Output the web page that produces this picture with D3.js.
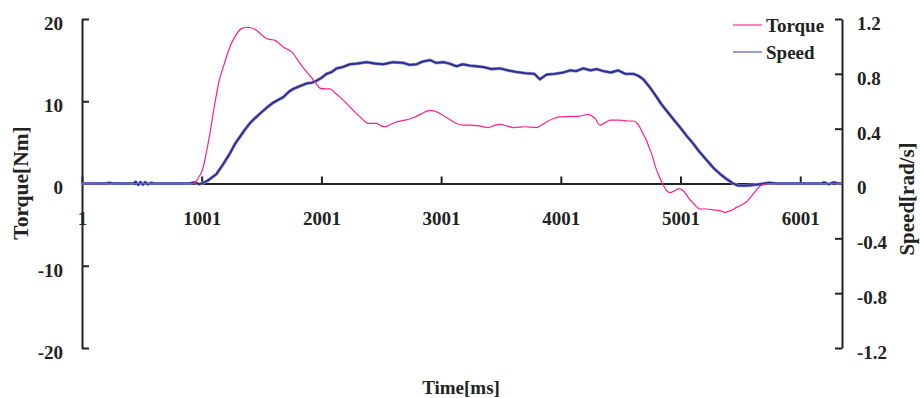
<!DOCTYPE html>
<html>
<head>
<meta charset="utf-8">
<script src="https://cdn.jsdelivr.net/npm/d3@7"></script>
<style>
  body { margin: 0; background: #fff; }
  svg text { font-family: "Liberation Serif", "Times New Roman", serif; font-weight: bold; fill: #222; }
</style>
</head>
<body>
<svg id="chart" width="921" height="398"></svg>
<script>
// time axis ticks (ms)
const timeTicks = [1, 1001, 2001, 3001, 4001, 5001, 6001];
const torqueTicks = [-20, -10, 0, 10, 20];
const speedTicks = [-1.2, -0.8, -0.4, 0, 0.4, 0.8, 1.2];

// Torque [Nm]
const torqueTime = [0, 930, 970, 1012, 1040, 1070, 1100, 1125, 1150, 1180, 1210, 1237, 1265, 1293, 1330, 1376, 1420, 1460, 1500, 1543, 1580, 1613, 1650, 1683, 1720, 1753, 1790, 1822, 1865, 1906, 1950, 1989, 2030, 2073, 2115, 2156, 2200, 2240, 2280, 2323, 2360, 2393, 2430, 2462, 2500, 2532, 2580, 2629, 2700, 2768, 2840, 2907, 2950, 2991, 3060, 3130, 3190, 3242, 3320, 3395, 3450, 3493, 3550, 3604, 3700, 3799, 3840, 3883, 3940, 3994, 4080, 4161, 4231, 4260, 4287, 4328, 4370, 4412, 4495, 4560, 4607, 4640, 4662, 4690, 4718, 4740, 4760, 4780, 4802, 4825, 4843, 4865, 4885, 4913, 4950, 4983, 5015, 5038, 5070, 5108, 5140, 5164, 5220, 5275, 5330, 5373, 5420, 5470, 5498, 5554, 5596, 5630, 5665, 5700, 5740, 6350];
const torqueValue = [0, 0, 0.6, 1.9, 3.8, 6.1, 8.8, 10.9, 12.7, 14.1, 15.5, 16.6, 17.5, 18.2, 18.8, 19.0, 18.9, 18.6, 18.1, 17.6, 17.5, 17.4, 17.0, 16.6, 16.3, 16.0, 15.3, 14.6, 13.8, 13.1, 12.3, 11.6, 11.5, 11.5, 11.0, 10.5, 9.9, 9.3, 8.7, 8.1, 7.6, 7.3, 7.3, 7.3, 7.0, 6.9, 7.2, 7.5, 7.7, 8.0, 8.5, 8.9, 8.8, 8.5, 7.9, 7.3, 7.1, 7.1, 7.0, 6.8, 7.1, 7.2, 7.0, 6.8, 6.9, 6.8, 7.1, 7.5, 7.9, 8.1, 8.15, 8.2, 8.4, 8.2, 7.9, 7.1, 7.4, 7.7, 7.7, 7.6, 7.6, 7.3, 6.8, 6.0, 5.2, 4.3, 3.6, 2.6, 1.6, 0.8, 0.2, -0.4, -0.85, -1.1, -0.9, -0.65, -0.8, -1.1, -1.8, -2.4, -2.9, -3.1, -3.1, -3.2, -3.3, -3.5, -3.3, -2.9, -2.7, -2.2, -1.5, -0.9, -0.3, -0.1, 0, 0];

// Speed [rad/s]
const speedTime = [0, 200, 230, 260, 430, 450, 470, 490, 510, 530, 550, 580, 600, 900, 940, 980, 1001, 1050, 1125, 1180, 1237, 1280, 1320, 1360, 1404, 1450, 1488, 1540, 1599, 1640, 1683, 1730, 1766, 1820, 1878, 1920, 1962, 2000, 2045, 2090, 2129, 2180, 2240, 2300, 2379, 2450, 2518, 2600, 2685, 2740, 2797, 2850, 2908, 2960, 3019, 3070, 3130, 3180, 3242, 3300, 3353, 3420, 3493, 3560, 3620, 3700, 3780, 3827, 3883, 3950, 4022, 4080, 4130, 4189, 4250, 4300, 4356, 4420, 4480, 4540, 4607, 4650, 4690, 4746, 4802, 4840, 4885, 4940, 4997, 5050, 5108, 5160, 5220, 5280, 5331, 5390, 5442, 5480, 5550, 5620, 5700, 5740, 5800, 6180, 6200, 6240, 6280, 6320, 6350];
const speedValue = [0, 0, 0.005, 0, 0, 0.012, -0.01, 0.01, -0.008, 0.01, -0.005, 0.005, 0, 0, 0.008, -0.005, 0, 0.02, 0.07, 0.14, 0.22, 0.29, 0.34, 0.39, 0.44, 0.48, 0.51, 0.55, 0.59, 0.61, 0.63, 0.67, 0.69, 0.71, 0.73, 0.735, 0.75, 0.77, 0.80, 0.815, 0.84, 0.85, 0.87, 0.875, 0.885, 0.875, 0.87, 0.885, 0.88, 0.865, 0.87, 0.89, 0.90, 0.88, 0.885, 0.875, 0.855, 0.87, 0.86, 0.855, 0.85, 0.835, 0.84, 0.825, 0.815, 0.805, 0.80, 0.76, 0.795, 0.80, 0.81, 0.825, 0.82, 0.84, 0.825, 0.835, 0.82, 0.81, 0.825, 0.80, 0.80, 0.785, 0.76, 0.70, 0.63, 0.58, 0.53, 0.47, 0.41, 0.35, 0.29, 0.23, 0.17, 0.11, 0.07, 0.03, 0, -0.015, -0.015, -0.01, 0, 0.005, 0, 0, 0.008, -0.005, 0.008, 0, 0];

const torqueColor = "#ff1f8f";
const speedColor = "#2b2e8f";

const svg = d3.select("#chart");
const plot = { left: 82, right: 842, top: 19, bottom: 348 };

const x = d3.scaleLinear().domain([1, 6350]).range([plot.left, plot.right]);
const yT = d3.scaleLinear().domain([-20, 20]).range([plot.bottom, plot.top]);
const yS = d3.scaleLinear().domain([-1.2, 1.2]).range([plot.bottom, plot.top]);

function styleAxis(g) {
  g.selectAll("path, line").attr("stroke", "#222").attr("stroke-width", 2);
  g.selectAll("text").attr("font-size", "19px").attr("fill", "#222")
    .attr("font-family", '"Liberation Serif", "Times New Roman", serif')
    .attr("font-weight", "bold");
}

// left axis (torque) - plain hyphen minus like the original
svg.append("g")
  .attr("transform", `translate(${plot.left},0)`)
  .call(d3.axisLeft(yT).tickValues(torqueTicks).tickFormat(d => String(d))
    .tickSizeInner(-7).tickSizeOuter(0).tickPadding(19))
  .call(styleAxis)
  .selectAll("text").attr("dy", "0.55em");

// right axis (speed)
svg.append("g")
  .attr("transform", `translate(${plot.right},0)`)
  .call(d3.axisRight(yS).tickValues(speedTicks).tickFormat(d => d === 0 ? "0" : d.toFixed(1))
    .tickSizeInner(-7).tickSizeOuter(0).tickPadding(15))
  .call(styleAxis)
  .selectAll("text").attr("dy", "0.55em");

// time axis across zero
svg.append("g")
  .attr("transform", `translate(0,${yT(0)})`)
  .call(d3.axisBottom(x).tickValues(timeTicks).tickFormat(d => String(d))
    .tickSizeInner(-7).tickSizeOuter(0).tickPadding(28))
  .call(styleAxis);

// series
const speedData = speedTime.map((t, i) => ({ t, v: speedValue[i] }));
const torqueData = torqueTime.map((t, i) => ({ t, v: torqueValue[i] }));
const speedLine = d3.line().x(d => x(d.t)).y(d => yS(d.v));

svg.append("path")
  .datum(speedData)
  .attr("fill", "none")
  .attr("stroke", "#8e92cc")
  .attr("stroke-width", 3.2)
  .attr("stroke-linejoin", "round")
  .attr("d", speedLine);

svg.append("path")
  .datum(speedData)
  .attr("fill", "none")
  .attr("stroke", speedColor)
  .attr("stroke-width", 1.9)
  .attr("stroke-linejoin", "round")
  .attr("d", speedLine);

svg.append("path")
  .datum(torqueData)
  .attr("fill", "none")
  .attr("stroke", torqueColor)
  .attr("stroke-width", 1.2)
  .attr("stroke-linejoin", "round")
  .attr("d", d3.line().curve(d3.curveMonotoneX).x(d => x(d.t)).y(d => yT(d.v)));

// legend
const legend = [
  { name: "Torque", color: "#ff4da3", y: 25 },
  { name: "Speed", color: "#7075bd", y: 52 }
];
legend.forEach(l => {
  svg.append("line")
    .attr("x1", 733).attr("x2", 762)
    .attr("y1", l.y).attr("y2", l.y)
    .attr("stroke", l.color).attr("stroke-width", 1.4);
  svg.append("text")
    .attr("x", 766).attr("y", l.y + 6.5)
    .attr("font-size", "19px")
    .text(l.name);
});

// axis titles
svg.append("text")
  .attr("transform", "translate(28,183) rotate(-90)")
  .attr("text-anchor", "middle")
  .attr("font-size", "21.5px")
  .text("Torque[Nm]");

svg.append("text")
  .attr("transform", "translate(914,199) rotate(-90)")
  .attr("text-anchor", "middle")
  .attr("font-size", "21px")
  .text("Speed[rad/s]");

svg.append("text")
  .attr("x", 461).attr("y", 394)
  .attr("text-anchor", "middle")
  .attr("font-size", "19px")
  .text("Time[ms]");
</script>
</body>
</html>
